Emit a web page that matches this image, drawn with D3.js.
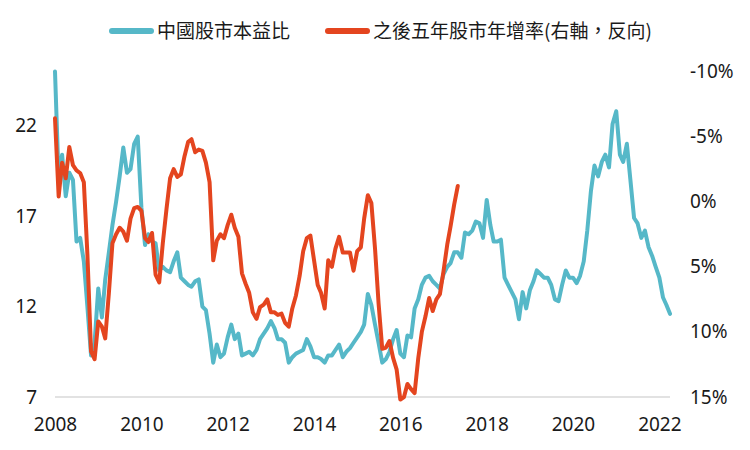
<!DOCTYPE html>
<html lang="zh-Hant">
<head>
<meta charset="utf-8">
<script src="https://cdn.jsdelivr.net/npm/d3@7"></script>
<style>
  html, body { margin: 0; padding: 0; background: #fff; }
  svg { display: block; }
  text { font-family: "Noto Sans", "Noto Sans CJK TC", sans-serif; }
</style>
</head>
<body>
<svg id="chart" width="750" height="450"></svg>
<script>
// Monthly data starting January 2008
const startYear = 2008;
const peSeries = [
  25.0, 19.0, 20.4, 18.1, 19.4, 19.0, 15.6, 15.8, 14.5, 12.0, 9.3, 10.0,
  13.0, 11.4, 13.5, 15.0, 16.5, 17.8, 19.2, 20.8, 19.4, 19.6, 21.0, 21.4,
  17.5, 15.4, 16.0, 15.6, 15.5, 14.0, 14.2, 14.0, 13.9, 14.5, 15.0, 13.6,
  13.4, 13.2, 13.1, 13.4, 13.5, 12.0, 11.8, 10.5, 8.9, 9.9, 9.2, 9.4,
  10.3, 11.0, 10.2, 10.5, 9.3, 9.4, 9.5, 9.3, 9.6, 10.2, 10.5, 10.8,
  11.2, 10.8, 10.2, 10.2, 10.0, 8.9, 9.2, 9.4, 9.5, 9.6, 10.2, 9.8,
  9.2, 9.2, 9.1, 8.9, 9.3, 9.3, 9.6, 9.9, 9.2, 9.5, 9.7, 10.0,
  10.3, 10.6, 11.0, 12.7, 12.1, 11.0, 10.0, 8.9, 9.1, 9.5, 10.2, 10.7,
  9.4, 9.2, 10.4, 10.3, 11.9, 12.4, 13.2, 13.6, 13.7, 13.4, 13.2, 13.0,
  13.8, 14.2, 14.4, 15.0, 15.0, 14.7, 16.1, 16.0, 16.2, 16.7, 16.6, 15.8,
  17.9, 16.5, 15.6, 15.6, 15.7, 13.6, 13.2, 12.8, 12.4, 11.3, 12.8, 11.9,
  12.9, 13.4, 14.0, 13.8, 13.6, 13.6, 13.2, 12.4, 12.3, 13.2, 14.0, 13.6,
  13.6, 13.3, 13.7, 14.5, 16.2, 18.4, 19.8, 19.2, 20.0, 20.4, 19.7, 22.1,
  22.8, 20.4, 20.0, 21.0, 19.0, 16.9, 16.6, 15.8, 16.2, 15.3, 14.8, 14.2,
  13.6, 12.5, 12.1, 11.6
];
const fwdReturn = [
  -6.4, -0.4, -3.0, -1.8, -4.2, -2.8, -2.4, -2.2, -1.5, 4.0, 11.5, 12.1,
  9.2, 9.6, 10.5, 7.0, 3.2, 2.5, 2.0, 2.3, 3.0, 1.3, 0.5, 0.4,
  0.7, 2.8, 3.1, 2.4, 5.6, 6.2, 3.2, 0.6, -1.8, -2.5, -1.9, -2.1,
  -3.5, -4.6, -4.8, -3.8, -4.0, -3.9, -3.0, -1.5, 4.5, 3.0, 2.5, 2.8,
  1.8, 1.0, 2.0, 2.7, 5.5, 6.3, 7.0, 8.5, 9.0, 8.1, 7.9, 7.5,
  8.5, 8.5, 8.7, 8.6, 9.3, 9.6, 8.2, 7.2, 5.7, 3.8, 2.8, 2.6,
  4.5, 6.4, 7.0, 8.2, 4.5, 5.0, 3.6, 2.7, 3.9, 3.9, 3.9, 5.3,
  3.8, 3.5, 1.3, -0.5, 0.1, 3.6, 7.8, 11.3, 11.2, 10.7, 12.0, 12.9,
  15.2, 15.0, 14.0, 14.4, 14.7, 12.0, 10.0, 8.8, 7.4, 8.4, 7.5, 7.1,
  5.3, 3.3, 1.9, 0.2, -1.2
];
const xTickYears = [2008, 2010, 2012, 2014, 2016, 2018, 2020, 2022];
const leftTicks = [7, 12, 17, 22];
const rightTicks = [-10, -5, 0, 5, 10, 15];
const legendLabels = ["中國股市本益比", "之後五年股市年增率(右軸，反向)"];

const colors = { pe: "#56b8c8", ret: "#e4451f" };

const svg = d3.select("#chart");
const margin = { left: 55, right: 80, top: 71.5, bottom: 53 };
const W = 750, H = 450;

const dateOf = i => new Date(startYear, i, 1);

const x = d3.scaleTime()
  .domain([new Date(2008, 0, 1), new Date(2022, 3, 1)])
  .range([margin.left, W - margin.right]);
const yL = d3.scaleLinear().domain([7, 25]).range([H - margin.bottom, margin.top]);
const yR = d3.scaleLinear().domain([-10, 15]).range([margin.top, H - margin.bottom]);

const tickFont = "19px";

// baseline
svg.append("line")
  .attr("x1", x.range()[0]).attr("x2", x.range()[1])
  .attr("y1", yL(7)).attr("y2", yL(7))
  .attr("stroke", "#d9d9d9").attr("stroke-width", 1.5);

// x axis
const xAxis = svg.append("g")
  .attr("transform", `translate(0,${yL(7)})`)
  .call(d3.axisBottom(x)
    .tickValues(xTickYears.map(y => new Date(y, 0, 1)))
    .tickFormat(d3.timeFormat("%Y"))
    .tickSize(0).tickPadding(21));
xAxis.select(".domain").remove();
xAxis.selectAll("text").attr("font-size", tickFont).attr("fill", "#1a1a1a")
  .style("font-family", "'Noto Sans', sans-serif");

// left axis
const lAxis = svg.append("g")
  .attr("transform", `translate(${margin.left},0)`)
  .call(d3.axisLeft(yL).tickValues(leftTicks).tickSize(0).tickPadding(18));
lAxis.select(".domain").remove();
lAxis.selectAll("text").attr("font-size", tickFont).attr("fill", "#1a1a1a")
  .style("font-family", "'Noto Sans', sans-serif");

// right axis
const rAxis = svg.append("g")
  .attr("transform", `translate(${W - margin.right},0)`)
  .call(d3.axisRight(yR).tickValues(rightTicks).tickFormat(d => d + "%").tickSize(0).tickPadding(20));
rAxis.select(".domain").remove();
rAxis.selectAll("text").attr("font-size", tickFont).attr("fill", "#1a1a1a")
  .style("font-family", "'Noto Sans', sans-serif");

// lines
const linePE = d3.line().x((d, i) => x(dateOf(i))).y(d => yL(d));
const lineR = d3.line().x((d, i) => x(dateOf(i))).y(d => yR(d));

svg.append("path").datum(peSeries)
  .attr("d", linePE).attr("fill", "none")
  .attr("stroke", colors.pe).attr("stroke-width", 4)
  .attr("stroke-linejoin", "round").attr("stroke-linecap", "round");

svg.append("path").datum(fwdReturn)
  .attr("d", lineR).attr("fill", "none")
  .attr("stroke", colors.ret).attr("stroke-width", 4)
  .attr("stroke-linejoin", "round").attr("stroke-linecap", "round");

// legend
const legend = svg.append("g");
const legendItems = [
  { label: legendLabels[0], color: colors.pe, x0: 112 },
  { label: legendLabels[1], color: colors.ret, x0: 328 }
];
legendItems.forEach(it => {
  legend.append("line")
    .attr("x1", it.x0).attr("x2", it.x0 + 39)
    .attr("y1", 31).attr("y2", 31)
    .attr("stroke", it.color).attr("stroke-width", 6).attr("stroke-linecap", "round");
  legend.append("text")
    .attr("x", it.x0 + 45).attr("y", 31).attr("dy", "0.36em")
    .attr("font-size", "19px").attr("fill", "#1a1a1a")
    .attr("lang", "zh-Hant")
    .style("font-family", "'Noto Sans CJK TC', 'Noto Sans', sans-serif")
    .text(it.label);
});
</script>
</body>
</html>
